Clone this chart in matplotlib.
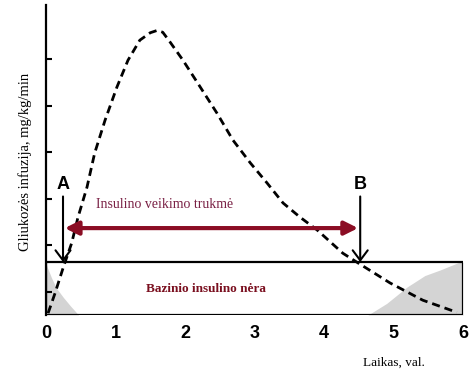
import matplotlib.pyplot as plt
from matplotlib.patches import Rectangle

# glucose infusion curve (hours, arbitrary units)
curve_x = [0.03, 0.13, 0.25, 0.37, 0.46, 0.59, 0.70, 0.85, 1.02, 1.18, 1.35, 1.50, 1.60,
           1.68, 1.78, 1.97, 2.22, 2.46, 2.69, 2.94, 3.18, 3.41, 3.65, 3.90, 4.27, 4.49,
           4.95, 5.42, 5.91]
curve_y = [0.04, 0.47, 1.03, 1.55, 2.10, 2.75, 3.48, 4.19, 4.90, 5.48, 5.91, 6.07, 6.12,
           6.08, 5.88, 5.48, 4.90, 4.34, 3.76, 3.27, 2.84, 2.41, 2.11, 1.83, 1.33, 1.12,
           0.69, 0.32, 0.06]

# grey areas inside the "no basal insulin" box
left_x = [0.0, 0.08, 0.15, 0.25, 0.35, 0.47]
left_y = [1.10, 0.80, 0.58, 0.38, 0.20, 0.0]
right_x = [4.63, 4.90, 5.19, 5.45, 5.67, 5.95, 6.0]
right_y = [0.0, 0.25, 0.60, 0.85, 0.97, 1.14, 1.14]

x_ticks = [0, 1, 2, 3, 4, 5, 6]
y_ticks = [0.5, 1.5, 2.5, 3.5, 4.5, 5.5]

box_top = 1.14
arrow_y = 1.87
t_start, t_end = 0.245, 4.52

red = '#8b0d24'
serif = ['Liberation Serif', 'DejaVu Serif']

fig = plt.figure(figsize=(4.74, 3.72), dpi=100)
ax = fig.add_axes([0.097, 0.153, 0.880, 0.834])
ax.set_xlim(0, 6)
ax.set_ylim(0, 6.67)

ax.fill_between(left_x, 0, left_y, color='#d4d4d4', lw=0, zorder=1)
ax.fill_between(right_x, 0, right_y, color='#d4d4d4', lw=0, zorder=1)
ax.add_patch(Rectangle((0, 0), 6, box_top, fill=False, ec='black', lw=1.6, zorder=3))

line, = ax.plot(curve_x, curve_y, color='black', lw=2.0, zorder=4)
line.set_dashes((2.9, 1.8))

# duration arrow
ax.annotate('', xy=(0.27, arrow_y), xytext=(4.49, arrow_y),
            arrowprops=dict(arrowstyle='<|-|>', color=red, lw=3, mutation_scale=20,
                            shrinkA=0, shrinkB=0), zorder=5)

for xa, lab in [(t_start, 'A'), (t_end, 'B')]:
    ax.annotate('', xy=(xa, box_top), xytext=(xa, 2.55),
                arrowprops=dict(arrowstyle='->,head_length=0.6,head_width=0.45', color='black',
                                lw=1.5, mutation_scale=12, shrinkA=0, shrinkB=0), zorder=5)
    ax.text(xa, 2.8, lab, ha='center', va='center', fontsize=13, fontweight='bold',
            family=['Liberation Sans', 'DejaVu Sans'])

ax.text(0.72, 2.37, 'Insulino veikimo trukmė', ha='left', va='center', fontsize=10,
        color='#7a2145', family=serif)
ax.text(2.30, 0.56, 'Bazinio insulino nėra', ha='center', va='center', fontsize=9.5,
        fontweight='bold', color='#7a0f1f', family=serif)

ax.spines['top'].set_visible(False)
ax.spines['right'].set_visible(False)
ax.spines['bottom'].set_visible(False)
ax.spines['left'].set_linewidth(1.6)

ax.set_xticks(x_ticks)
ax.set_xticklabels([str(v) for v in x_ticks], fontsize=13, fontweight='bold',
                   family=['Liberation Sans', 'DejaVu Sans'])
ax.tick_params(axis='x', length=0, pad=7)
ax.set_yticks(y_ticks)
ax.set_yticklabels([])
ax.tick_params(axis='y', direction='in', length=4, width=1.5)

fig.text(0.053, 0.565, 'Gliukozės infuzija, mg/kg/min', rotation=90, ha='center', va='center',
         fontsize=10.5, family=serif)
fig.text(0.831, 0.024, 'Laikas, val.', ha='center', va='center', fontsize=9.5, family=serif)

fig.savefig('out.png', dpi=100)
